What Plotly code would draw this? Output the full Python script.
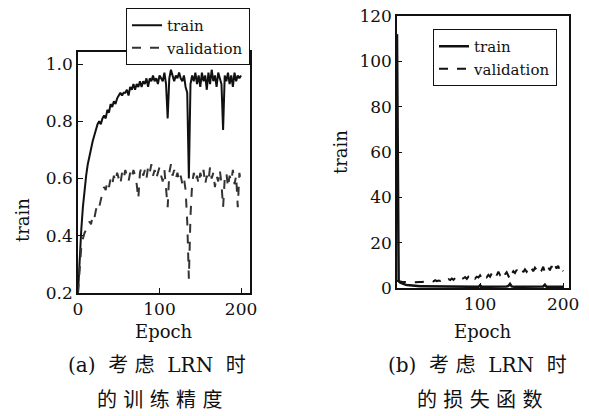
import plotly.graph_objects as go

epochs = list(range(0, 201, 2))

acc_train = [0.20, 0.33, 0.42, 0.50, 0.56, 0.61, 0.65, 0.68, 0.71, 0.73,
             0.75, 0.77, 0.79, 0.80, 0.79, 0.81, 0.82, 0.81, 0.84, 0.83,
             0.86, 0.85, 0.87, 0.86, 0.88, 0.89, 0.90, 0.89, 0.90, 0.90,
             0.91, 0.89, 0.92, 0.91, 0.93, 0.91, 0.93, 0.92, 0.94, 0.92,
             0.94, 0.93, 0.95, 0.92, 0.95, 0.94, 0.96, 0.94, 0.95, 0.93,
             0.96, 0.95, 0.94, 0.97, 0.93, 0.81, 0.95, 0.98, 0.96, 0.94,
             0.96, 0.95, 0.97, 0.95, 0.94, 0.96, 0.92, 0.90, 0.60, 0.93,
             0.96, 0.94, 0.97, 0.93, 0.96, 0.92, 0.97, 0.94, 0.96, 0.91,
             0.97, 0.93, 0.98, 0.94, 0.96, 0.92, 0.97, 0.95, 0.93, 0.77,
             0.96, 0.94, 0.97, 0.93, 0.96, 0.92, 0.97, 0.94, 0.96, 0.95,
             0.96]

acc_val = [0.20, 0.30, 0.36, 0.39, 0.41, 0.42, 0.43, 0.45, 0.44, 0.47,
           0.46, 0.49, 0.51, 0.50, 0.53, 0.55, 0.57, 0.56, 0.59, 0.57,
           0.60, 0.58, 0.61, 0.59, 0.62, 0.60, 0.58, 0.62, 0.60, 0.63,
           0.61, 0.59, 0.62, 0.60, 0.63, 0.61, 0.58, 0.53, 0.62, 0.64,
           0.61, 0.63, 0.60, 0.64, 0.62, 0.65, 0.61, 0.63, 0.60, 0.62,
           0.64, 0.61, 0.59, 0.63, 0.57, 0.50, 0.62, 0.65, 0.61, 0.63,
           0.60, 0.62, 0.59, 0.61, 0.58, 0.60, 0.56, 0.45, 0.25, 0.47,
           0.58, 0.62, 0.59, 0.61, 0.58, 0.62, 0.60, 0.63, 0.58, 0.61,
           0.59, 0.64, 0.60, 0.62, 0.57, 0.61, 0.59, 0.63, 0.58, 0.50,
           0.60, 0.62, 0.57, 0.61, 0.59, 0.63, 0.58, 0.61, 0.50, 0.62,
           0.58]

loss_train = [112.0, 3.0, 2.4, 2.0, 1.7, 1.5, 1.3, 1.2, 1.1, 1.0,
              1.0, 0.9, 0.9, 0.9, 0.8, 0.8, 0.8, 0.8, 0.7, 0.7,
              0.7, 0.7, 0.7, 0.6, 0.6, 0.6, 0.6, 0.6, 0.6, 0.6,
              0.6, 0.6, 0.5, 0.6, 0.5, 0.6, 0.5, 0.5, 0.6, 0.5,
              0.5, 0.5, 0.5, 0.6, 0.5, 0.5, 0.5, 0.5, 0.6, 0.5,
              1.2, 0.5, 0.5, 0.5, 0.6, 0.8, 0.5, 0.5, 0.5, 0.5,
              0.5, 0.5, 0.5, 0.5, 0.5, 0.6, 0.7, 0.9, 1.8, 0.7,
              0.5, 0.5, 0.5, 0.5, 0.5, 0.5, 0.5, 0.5, 0.5, 0.6,
              0.5, 0.5, 0.5, 0.5, 0.5, 0.5, 0.5, 0.5, 0.7, 1.5,
              0.5, 0.5, 0.5, 0.5, 0.5, 0.5, 0.5, 0.5, 0.6, 0.5,
              0.5]

loss_val = [3.2, 3.0, 2.8, 2.7, 2.6, 2.6, 2.5, 2.5, 2.5, 2.5,
            2.5, 2.6, 2.5, 2.6, 2.7, 2.6, 2.7, 2.6, 2.8, 2.7,
            2.8, 3.2, 2.9, 3.4, 3.0, 3.3, 3.1, 3.6, 3.2, 3.8,
            3.4, 3.9, 3.5, 4.2, 3.6, 4.4, 3.8, 4.0, 4.6, 3.9,
            4.3, 4.8, 4.0, 5.0, 4.4, 4.6, 5.4, 4.2, 5.0, 4.6,
            5.6, 4.5, 5.2, 6.0, 4.8, 5.8, 5.0, 6.4, 5.4, 6.8,
            5.6, 7.2, 5.8, 6.6, 7.8, 6.0, 7.0, 5.4, 3.8, 6.2,
            7.4, 6.6, 8.0, 6.8, 7.6, 8.4, 7.0, 8.2, 7.2, 8.8,
            7.6, 8.6, 7.4, 9.0, 8.0, 7.2, 8.8, 7.8, 9.4, 6.8,
            8.4, 9.2, 7.8, 9.6, 8.2, 10.4, 8.6, 9.8, 7.6, 9.0,
            7.4]

FONT = "DejaVu Serif, Liberation Serif, Noto Sans CJK SC, serif"
BLACK = "#111111"

# the page body has an 8px margin; the figure is sized so the window shows it whole
OFF = 8
W, H = 589 - OFF, 416 - OFF


def px(X):
    return (X - OFF) / W


def py(Y):
    return 1 - (Y - OFF) / H


fig = go.Figure()
fig.add_trace(go.Scatter(x=epochs, y=acc_train, mode="lines", name="train",
                         line=dict(color=BLACK, width=2), xaxis="x", yaxis="y",
                         legend="legend"))
fig.add_trace(go.Scatter(x=epochs, y=acc_val, mode="lines", name="validation",
                         line=dict(color="#333333", width=2, dash="dash"),
                         xaxis="x", yaxis="y", legend="legend"))
fig.add_trace(go.Scatter(x=epochs, y=loss_train, mode="lines", name="train",
                         line=dict(color=BLACK, width=2.5), xaxis="x2", yaxis="y2",
                         legend="legend2"))
fig.add_trace(go.Scatter(x=epochs, y=loss_val, mode="lines", name="validation",
                         line=dict(color=BLACK, width=2, dash="dash"),
                         xaxis="x2", yaxis="y2", legend="legend2"))

axis_common = dict(showline=True, mirror=True, linecolor=BLACK, linewidth=1.5,
                   ticks="inside", ticklen=5, tickcolor=BLACK, showgrid=False,
                   zeroline=False, automargin=False, ticklabeloverflow="allow",
                   tickfont=dict(family=FONT, size=17, color=BLACK))

leg_font = dict(family=FONT, size=15, color=BLACK)

fig.update_layout(
    width=W, height=H,
    margin=dict(l=0, r=0, t=0, b=0, autoexpand=False),
    paper_bgcolor="white", plot_bgcolor="white",
    font=dict(family=FONT, size=17, color=BLACK),
    xaxis=dict(domain=[px(78), px(250)], range=[0, 211], tickvals=[0, 100, 200],
               anchor="y", **axis_common),
    yaxis=dict(domain=[py(293), py(52)], range=[0.2, 1.042],
               tickvals=[0.2, 0.4, 0.6, 0.8, 1.0], ticktext=["0.2", "0.4", "0.6", "0.8", "1.0"],
               anchor="x", **axis_common),
    xaxis2=dict(domain=[px(397), px(569)], range=[0, 207], tickvals=[100, 200],
                anchor="y2", **axis_common),
    yaxis2=dict(domain=[py(288), py(16)], range=[0, 120],
                tickvals=[0, 20, 40, 60, 80, 100, 120],
                anchor="x2", **axis_common),
    legend=dict(x=px(250), y=1.0, xanchor="right", yanchor="top",
                bgcolor="white", bordercolor=BLACK, borderwidth=1,
                font=leg_font, tracegroupgap=0, itemwidth=30),
    legend2=dict(x=px(557), y=py(29), xanchor="right", yanchor="top",
                 bgcolor="white", bordercolor=BLACK, borderwidth=1,
                 font=leg_font, tracegroupgap=0, itemwidth=30),
    showlegend=True,
)

ann = [
    dict(text="train", x=px(22), y=py(220), textangle=-90, font_size=18),
    dict(text="train", x=px(340), y=py(152), textangle=-90, font_size=18),
    dict(text="Epoch", x=px(164), y=py(331), font_size=18),
    dict(text="Epoch", x=px(483), y=py(331), font_size=18),
    dict(text="(a)  考 虑  LRN  时", x=px(157), y=py(365), font_size=20),
    dict(text="的 训 练 精 度", x=px(159), y=py(400), font_size=20),
    dict(text="(b)  考 虑  LRN  时", x=px(477), y=py(365), font_size=20),
    dict(text="的 损 失 函 数", x=px(479), y=py(400), font_size=20),
]
for a in ann:
    fs = a.pop("font_size")
    fig.add_annotation(xref="paper", yref="paper", showarrow=False,
                       xanchor="center", yanchor="middle",
                       font=dict(family=FONT, size=fs, color=BLACK), **a)

fig.write_html("out.html")
